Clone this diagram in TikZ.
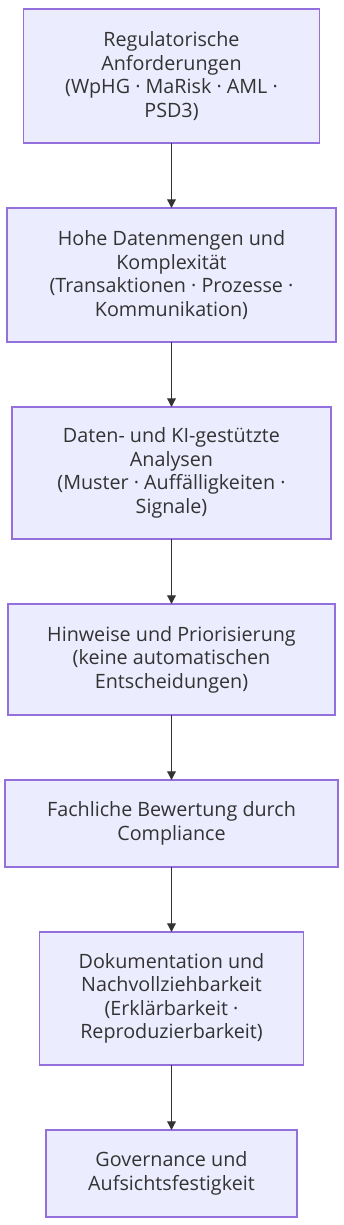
\documentclass[tikz,border=0pt]{standalone}
\usepackage{fontspec}
\setmainfont{Open Sans}
\usepackage{tikz}
\usetikzlibrary{arrows.meta,positioning}
\definecolor{lila}{HTML}{9370DB}
\definecolor{lilafill}{HTML}{ECECFF}
\definecolor{schrift}{HTML}{333333}
\tikzset{
  kasten/.style={rectangle, draw=lila, line width=1.1pt, fill=lilafill,
                 align=center, text=schrift, inner sep=0pt, outer sep=0pt,
                 font=\fontsize{14.8pt}{17.6pt}\selectfont},
  pfeil/.style={-{Triangle[length=6.5pt,width=6.5pt]}, line width=0.9pt, draw=schrift},
}

\begin{document}
\begin{tikzpicture}[node distance=48.75pt]
        \useasboundingbox (-128.625pt,6.75pt) rectangle (128.625pt,-912pt);
        \node[kasten, minimum width=222pt, minimum height=100.5pt, anchor=north] (regul) at (0,0)
          {Regulatorische\\Anforderungen\\(WpHG · MaRisk · AML ·\\PSD3)};
        \node[kasten, minimum width=246.75pt, minimum height=100.5pt, below=of regul] (daten)
          {Hohe Datenmengen und\\Komplexität\\(Transaktionen · Prozesse ·\\Kommunikation)};
        \node[kasten, minimum width=239.25pt, minimum height=99pt, below=of daten] (analyse)
          {Daten- und KI-gestützte\\Analysen\\(Muster · Auffälligkeiten ·\\Signale)};
        \node[kasten, minimum width=245.25pt, minimum height=83.25pt, below=of analyse] (hinweis)
          {Hinweise und Priorisierung\\(keine automatischen\\Entscheidungen)};
        \node[kasten, minimum width=249.75pt, minimum height=65.25pt, below=of hinweis] (bewert)
          {Fachliche Bewertung durch\\Compliance};
        \node[kasten, minimum width=198pt, minimum height=99.75pt, below=of bewert] (doku)
          {Dokumentation und\\Nachvollziehbarkeit\\(Erklärbarkeit ·\\Reproduzierbarkeit)};
        \node[kasten, minimum width=188.25pt, minimum height=65.25pt, below=of doku] (gov)
          {Governance und\\Aufsichtsfestigkeit};
        \draw[pfeil] (regul) -- (daten); \draw[pfeil] (daten) -- (analyse);
        \draw[pfeil] (analyse) -- (hinweis); \draw[pfeil] (hinweis) -- (bewert);
        \draw[pfeil] (bewert) -- (doku); \draw[pfeil] (doku) -- (gov);
      \end{tikzpicture}
\end{document}
